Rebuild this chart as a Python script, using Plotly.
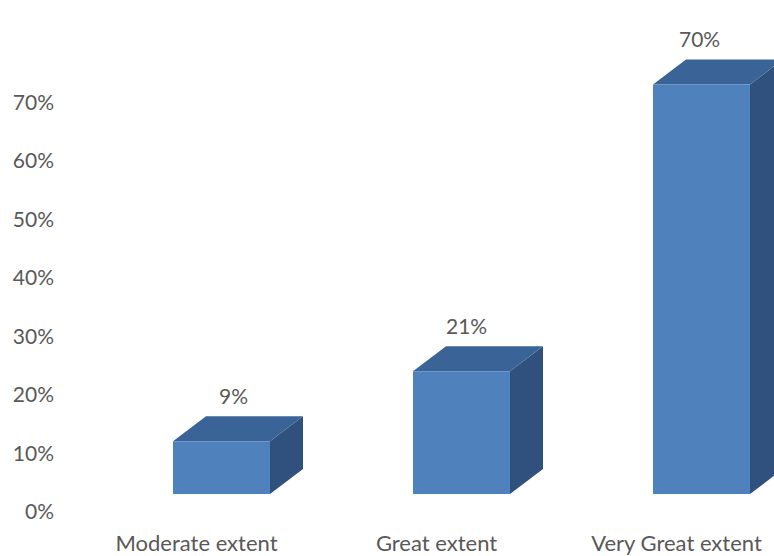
import plotly.graph_objects as go

categories = ["Moderate extent", "Great extent", "Very Great extent"]
values = [9, 21, 70]
value_labels = ["9%", "21%", "70%"]
y_ticks = [0, 10, 20, 30, 40, 50, 60, 70]
y_tick_labels = ["0%", "10%", "20%", "30%", "40%", "50%", "60%", "70%"]

# geometry / styling (pixel-derived constants)
PX_X = 240.0          # pixels per category unit
PX_Y = 5.85           # pixels per percent
half_w = 48.5 / PX_X  # half width of the front face
dx = 33 / PX_X        # depth offset in x
dy = 25 / PX_Y        # depth offset in y
base = 18 / PX_Y      # front face baseline above the axis zero

FRONT = "rgb(79,129,189)"
TOP = "rgb(58,100,151)"
SIDE = "rgb(48,81,126)"
TXT = "#595959"
FONT = "Lato"

fig = go.Figure()
n = len(values)
mid = (n - 1) / 2
for i, v in enumerate(values):
    xl, xr = i - half_w, i + half_w
    y0, y1 = base, base + v
    # side face
    fig.add_trace(go.Scatter(
        x=[xr, xr + dx, xr + dx, xr, xr], y=[y0, y0 + dy, y1 + dy, y1, y0],
        mode="lines", fill="toself", fillcolor=SIDE, line=dict(width=0),
        hoverinfo="skip", showlegend=False))
    # top face
    fig.add_trace(go.Scatter(
        x=[xl, xl + dx, xr + dx, xr, xl], y=[y1, y1 + dy, y1 + dy, y1, y1],
        mode="lines", fill="toself", fillcolor=TOP, line=dict(width=0),
        hoverinfo="skip", showlegend=False))
    # front face
    fig.add_trace(go.Scatter(
        x=[xl, xr, xr, xl, xl], y=[y0, y0, y1, y1, y0],
        mode="lines", fill="toself", fillcolor=FRONT, line=dict(width=0),
        hoverinfo="skip", showlegend=False))
    # value label, with a slight perspective shift toward the chart centre
    fig.add_annotation(x=i + (5 + 7 * (mid - i)) / PX_X, y=y1 + dy,
                       text=value_labels[i],
                       showarrow=False, yanchor="middle", yshift=21,
                       font=dict(family=FONT, size=21, color=TXT))

W, H = 774, 556
ml, mb = 60, 44
plot_w, plot_h = W - ml, H - mb
xmin = -(221.5 - ml) / PX_X
fig.update_layout(
    width=W, height=H,
    margin=dict(l=ml, r=0, t=0, b=mb),
    paper_bgcolor="white", plot_bgcolor="white",
    xaxis=dict(range=[xmin, xmin + plot_w / PX_X], showgrid=False, zeroline=False,
               showline=False, ticks="", ticklabelstandoff=16,
               tickvals=[i - 25 / PX_X for i in range(len(categories))],
               ticktext=categories,
               tickfont=dict(family=FONT, size=22, color=TXT)),
    yaxis=dict(range=[0, plot_h / PX_Y], showgrid=False, zeroline=False,
               showline=False, ticks="", ticklabelstandoff=5,
               tickvals=y_ticks, ticktext=y_tick_labels,
               tickfont=dict(family=FONT, size=21, color=TXT)),
)

fig.write_html("out.html")
